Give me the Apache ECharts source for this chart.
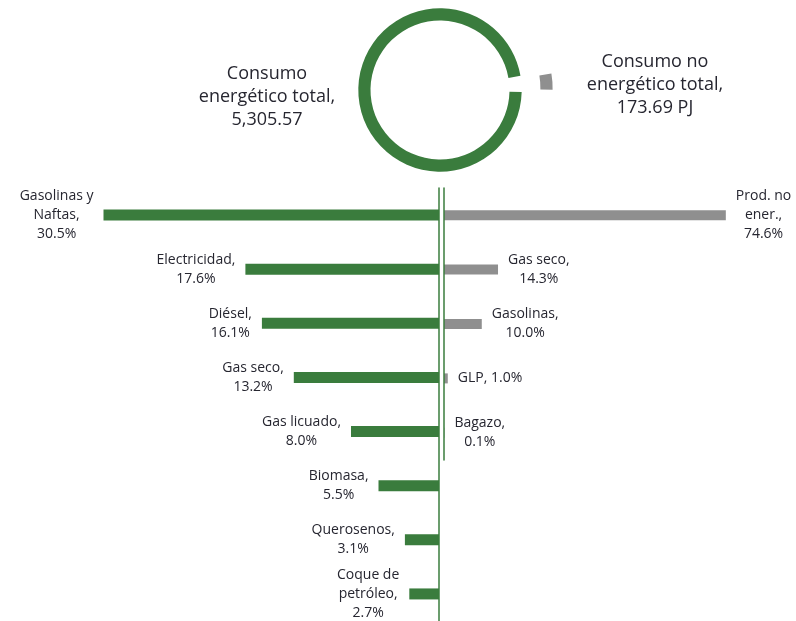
<!DOCTYPE html>
<html>
<head>
<meta charset="utf-8">
<script src="https://cdn.jsdelivr.net/npm/echarts@6/dist/echarts.min.js"></script>
<style>
html,body{margin:0;padding:0;background:#fff;}
#chart{width:796px;height:621px;}
</style>
</head>
<body>
<div id="chart"></div>
<script>
// ---- data ----
const totalEnergetico = 5305.57;
const totalNoEnergetico = 173.69;
const donutLabels = ['Consumo\nenergético total,', 'Consumo no\nenergético total,'];
const leftNames = ['Gasolinas y\nNaftas', 'Electricidad', 'Diésel', 'Gas seco', 'Gas licuado', 'Biomasa', 'Querosenos', 'Coque de\npetróleo'];
const leftValues = [30.5, 17.6, 16.1, 13.2, 8.0, 5.5, 3.1, 2.7];
const rightNames = ['Prod. no\nener.', 'Gas seco', 'Gasolinas', 'GLP', 'Bagazo'];
const rightValues = [74.6, 14.3, 10.0, 1.0, 0.1];

// ---- style ----
const GREEN = '#3a7c3d';
const GRAY = '#8f8f8f';
const TXT = '#262630';
const FONT = '"Open Sans", "Noto Sans", sans-serif';

function fmt2(v) { return v.toLocaleString('en-US', {minimumFractionDigits: 2, maximumFractionDigits: 2}); }
function barLabel(p) {
  const sep = p.name.length <= 4 ? ' ' : '\n';
  return '{a|' + p.name + ',' + sep + p.value.toFixed(1) + '%}';
}
const labelRich = { a: { align: 'center', fontSize: 14, lineHeight: 19, color: TXT, fontFamily: FONT } };

const chart = echarts.init(document.getElementById('chart'), null, {renderer: 'canvas'});
chart.setOption({
  animation: false,
  backgroundColor: '#fff',
  title: [
    { text: donutLabels[0] + '\n' + fmt2(totalEnergetico), left: 267, top: 62, padding: 0, textAlign: 'center',
      textStyle: { fontSize: 18, fontWeight: 'normal', lineHeight: 23, color: TXT, fontFamily: FONT } },
    { text: donutLabels[1] + '\n' + fmt2(totalNoEnergetico) + ' PJ', left: 655, top: 50, padding: 0, textAlign: 'center',
      textStyle: { fontSize: 18, fontWeight: 'normal', lineHeight: 23, color: TXT, fontFamily: FONT } }
  ],
  grid: [
    { left: 54, width: 385, top: 188, height: 435, containLabel: false },
    { left: 444, width: 340, top: 188, height: 272, containLabel: false }
  ],
  xAxis: [
    { gridIndex: 0, type: 'value', min: 0, max: 35, inverse: true, show: false },
    { gridIndex: 1, type: 'value', min: 0, max: 90, show: false }
  ],
  yAxis: [
    { gridIndex: 0, type: 'category', data: leftNames, inverse: true, position: 'right', z: 5,
      axisLine: { show: true, lineStyle: { color: GREEN, width: 1.5 } },
      axisTick: { show: false }, axisLabel: { show: false }, splitLine: { show: false } },
    { gridIndex: 1, type: 'category', data: rightNames, inverse: true, position: 'left', z: 5,
      axisLine: { show: true, lineStyle: { color: GREEN, width: 1.5 } },
      axisTick: { show: false }, axisLabel: { show: false }, splitLine: { show: false } }
  ],
  series: [
    {
      type: 'pie', center: [440, 90], radius: [69.5, 81.7], startAngle: 10, clockwise: true,
      selectedMode: 'single', selectedOffset: 31, silent: true,
      label: { show: false }, labelLine: { show: false },
      emphasis: { disabled: true },
      itemStyle: { borderWidth: 0 },
      data: [
        { name: 'No energético', value: totalNoEnergetico, selected: true, itemStyle: { color: GRAY } },
        { name: 'Energético', value: totalEnergetico, itemStyle: { color: GREEN } }
      ]
    },
    {
      type: 'bar', xAxisIndex: 0, yAxisIndex: 0, data: leftValues, barWidth: 11, silent: true,
      itemStyle: { color: GREEN },
      label: { show: true, position: 'left', distance: 10, formatter: barLabel, rich: labelRich }
    },
    {
      type: 'bar', xAxisIndex: 1, yAxisIndex: 1, data: rightValues, barWidth: 10, silent: true,
      itemStyle: { color: GRAY },
      label: { show: true, position: 'right', distance: 10, formatter: barLabel, rich: labelRich }
    }
  ]
});
</script>
</body>
</html>
